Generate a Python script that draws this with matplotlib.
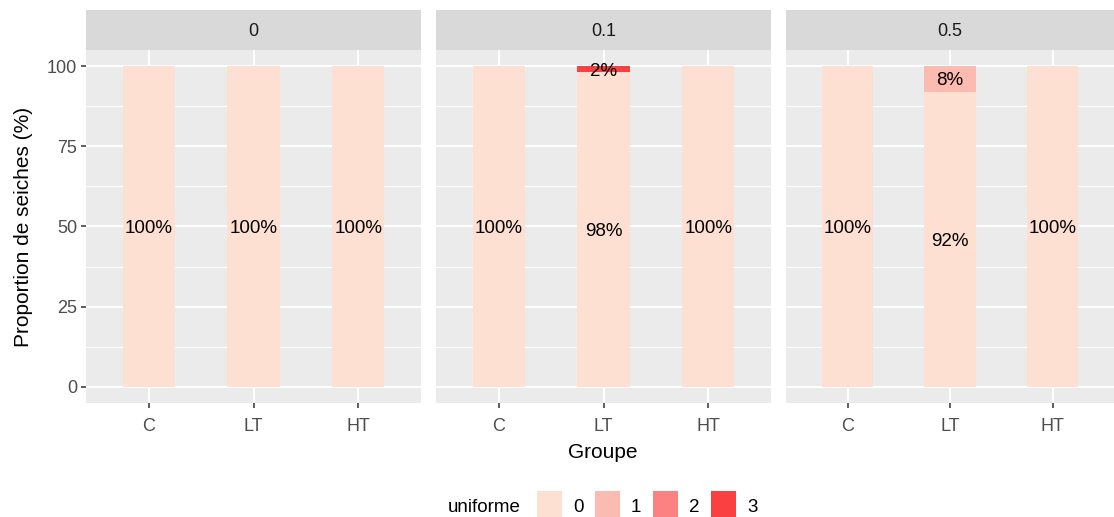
import matplotlib
matplotlib.use("Agg")
import matplotlib.pyplot as plt
from matplotlib.patches import Rectangle
import numpy as np

plt.rcParams['font.family'] = ['Liberation Sans', 'DejaVu Sans']

facets = ["0", "0.1", "0.5"]
groups = ["C", "LT", "HT"]
levels = ["0", "1", "2", "3"]
colors = ["#FEE0D2", "#FCBBB1", "#FC8181", "#FB4040"]
# proportions (%) per facet, per group, per level
props = {
    "0":   {"C": [100, 0, 0, 0], "LT": [100, 0, 0, 0], "HT": [100, 0, 0, 0]},
    "0.1": {"C": [100, 0, 0, 0], "LT": [98, 0, 0, 2], "HT": [100, 0, 0, 0]},
    "0.5": {"C": [100, 0, 0, 0], "LT": [92, 8, 0, 0], "HT": [100, 0, 0, 0]},
}
yticks = [0, 25, 50, 75, 100]

W, H = 1114, 517
fig = plt.figure(figsize=(W / 100, H / 100), dpi=100)

panels_x = [(86, 421), (436, 771), (786, 1114)]
ptop, pbot = 50, 403
strip_top = 10

for i, (f, (x0, x1)) in enumerate(zip(facets, panels_x)):
    ax = fig.add_axes([x0 / W, 1 - pbot / H, (x1 - x0) / W, (pbot - ptop) / H])
    ax.set_facecolor("#EBEBEB")
    ax.set_xlim(0.4, 3.6)
    ax.set_ylim(-5, 105)
    for yv in [12.5, 37.5, 62.5, 87.5]:
        ax.axhline(yv, color="white", lw=0.7, zorder=0)
    for yv in yticks:
        ax.axhline(yv, color="white", lw=1.4, zorder=0)
    for xv in range(1, 4):
        ax.axvline(xv, color="white", lw=1.4, zorder=0)
    for j, g in enumerate(groups):
        bottom = 0
        vals = props[f][g]
        for k, v in enumerate(vals):
            if v <= 0:
                continue
            ax.bar(j + 1, v, width=0.5, bottom=bottom, color=colors[k], zorder=2, linewidth=0)
            ax.text(j + 1, bottom + v / 2, f"{v}%", ha="center", va="center_baseline",
                    fontsize=13.5, color="black", zorder=3)
            bottom += v
    for s in ax.spines.values():
        s.set_visible(False)
    ax.set_xticks([1, 2, 3])
    ax.set_xticklabels(groups, fontsize=13, color="#4D4D4D")
    ax.set_yticks(yticks)
    if i == 0:
        ax.set_yticklabels([str(y) for y in yticks], fontsize=13, color="#4D4D4D")
        for lab in ax.get_yticklabels():
            lab.set_va("center_baseline")
        ax.tick_params(axis="y", length=3.5, color="#333333", width=1.1, pad=3)
    else:
        ax.tick_params(axis="y", length=0, labelleft=False)
    ax.tick_params(axis="x", length=3.5, color="#333333", width=1.1, pad=7)
    # strip
    sax = fig.add_axes([x0 / W, 1 - ptop / H, (x1 - x0) / W, (ptop - strip_top) / H])
    sax.set_facecolor("#D9D9D9")
    sax.set_xticks([]); sax.set_yticks([])
    for s in sax.spines.values():
        s.set_visible(False)
    sax.text(0.5, 0.5, f, ha="center", va="center_baseline", fontsize=13, color="#1A1A1A",
             transform=sax.transAxes)

fig.text(603 / W, 1 - 451 / H, "Groupe", ha="center", va="center_baseline", fontsize=15)
fig.text(24 / W, 1 - 227 / H, "Proportion de seiches (%)", ha="center", va="center",
         fontsize=15, rotation=90)

# legend
fig.text(448 / W, 1 - 505 / H, "uniforme", ha="left", va="center_baseline", fontsize=13.5)
lx = [537, 595, 653, 711]
for k, lev in enumerate(levels):
    fig.patches.append(Rectangle((lx[k] / W, 1 - 517 / H), 25 / W, 26 / H,
                                 transform=fig.transFigure, facecolor=colors[k],
                                 edgecolor="none"))
    fig.text((lx[k] + 36) / W, 1 - 505 / H, lev, ha="left", va="center_baseline", fontsize=13.5)

fig.savefig("out.png", dpi=100)
